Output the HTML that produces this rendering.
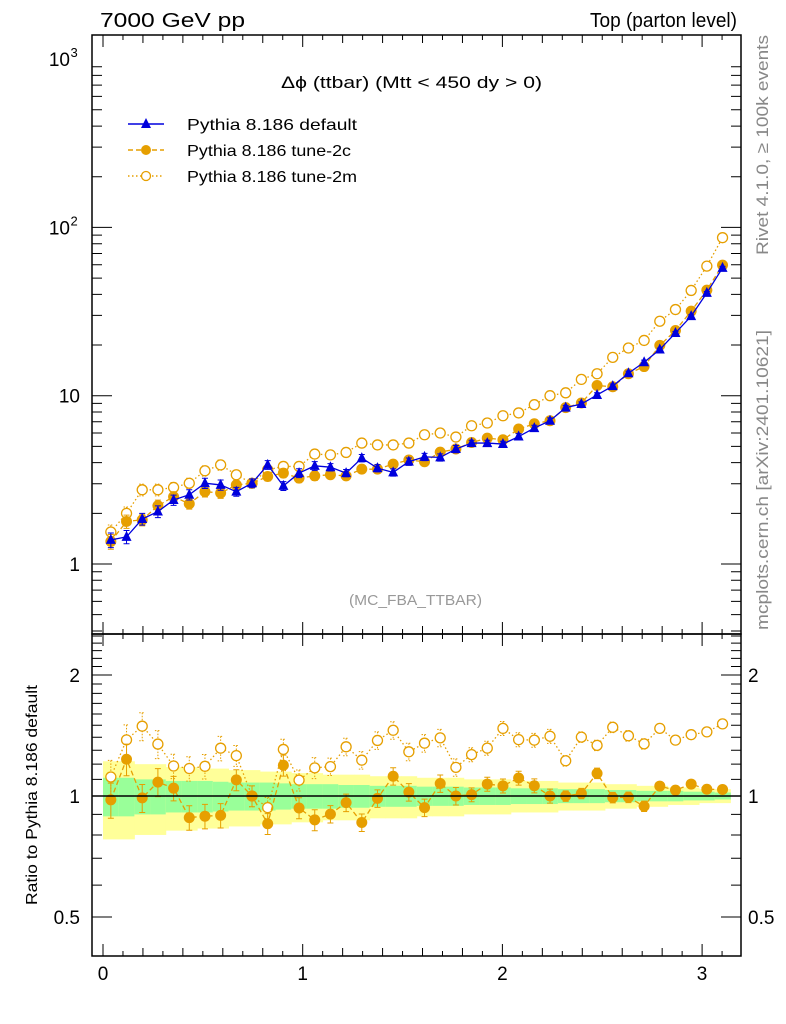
<!DOCTYPE html>
<html><head><meta charset="utf-8">
<style>
body{margin:0;background:#fff;}
svg{display:block;font-family:"Liberation Sans",sans-serif;}
</style></head>
<body>
<svg id="chart" width="786" height="1024" viewBox="0 0 786 1024">
<text x="100" y="27" font-size="20" textLength="145" lengthAdjust="spacingAndGlyphs">7000 GeV pp</text>
<text x="590" y="27" font-size="20" textLength="147" lengthAdjust="spacingAndGlyphs">Top (parton level)</text>
<text x="281" y="88" font-size="17" textLength="261" lengthAdjust="spacingAndGlyphs">Δϕ (ttbar) (Mtt &lt; 450 dy &gt; 0)</text>
<text x="349" y="605" font-size="15" fill="#999" textLength="133" lengthAdjust="spacingAndGlyphs">(MC_FBA_TTBAR)</text>
<text transform="translate(768,255) rotate(-90)" font-size="17" fill="#888" textLength="220" lengthAdjust="spacingAndGlyphs">Rivet 4.1.0, ≥ 100k events</text>
<text transform="translate(768,630) rotate(-90)" font-size="17" fill="#888" textLength="300" lengthAdjust="spacingAndGlyphs">mcplots.cern.ch [arXiv:2401.10621]</text>
<text transform="translate(37,905) rotate(-90)" font-size="16" textLength="220" lengthAdjust="spacingAndGlyphs">Ratio to Pythia 8.186 default</text>
<g id="legend">
 <g>
  <line x1="128" y1="124" x2="164" y2="124" stroke="#0000dd" stroke-width="1.5"/>
  <polygon points="146,118 151,128 141,128" fill="#0000dd"/>
  <text x="187" y="130" font-size="16" textLength="170" lengthAdjust="spacingAndGlyphs">Pythia 8.186 default</text>
 </g>
 <g>
  <line x1="128" y1="150" x2="164" y2="150" stroke="#e69f00" stroke-width="1.5" stroke-dasharray="5,3"/>
  <circle cx="146" cy="150" r="5" fill="#e69f00"/>
  <text x="187" y="156" font-size="16" textLength="164" lengthAdjust="spacingAndGlyphs">Pythia 8.186 tune-2c</text>
 </g>
 <g>
  <line x1="128" y1="176" x2="164" y2="176" stroke="#e69f00" stroke-width="1.5" stroke-dasharray="1.5,2.5"/>
  <circle cx="146" cy="176" r="4.5" fill="#fff" stroke="#e69f00" stroke-width="1.3"/>
  <text x="187" y="182" font-size="16" textLength="170" lengthAdjust="spacingAndGlyphs">Pythia 8.186 tune-2m</text>
 </g>
</g>
<g id="ratio-bands"></g>
<g id="main-marks"></g>
<g id="ratio-marks"></g>
<g id="axes"></g>
</svg>
<script>
const xMin = 0, xMax = Math.PI;
const nBins = 40;
const xTickLabels = ["0", "1", "2", "3"];
const yMainTicks = [1, 10, 100, 1000];
const yMainTickLabels = ["1", "10", "10", "10"];
const yMainTickExp = ["", "", "2", "3"];
const yRatioTicks = [0.5, 1, 2];
const yRatioTickLabels = ["0.5", "1", "2"];
const defaultVals = [1.39,1.45,1.85,2.05,2.4,2.58,3.02,2.95,2.69,3.02,3.88,2.91,3.47,3.83,3.76,3.47,4.26,3.71,3.5,4.06,4.33,4.3,4.82,5.23,5.23,5.16,5.72,6.42,7.1,8.5,8.92,10.1,11.4,13.6,15.8,18.8,23.6,29.7,40.8,57.5];
const tune2cVals = [1.36,1.79,1.83,2.22,2.51,2.28,2.69,2.64,2.95,3.02,3.31,3.47,3.24,3.34,3.39,3.34,3.66,3.66,3.92,4.15,4.05,4.62,4.82,5.27,5.6,5.47,6.34,6.81,7.1,8.5,9.05,11.5,11.3,13.5,14.9,19.9,24.4,31.8,42.4,59.7];
const tune2mVals = [1.55,2.0,2.76,2.76,2.85,3.02,3.58,3.88,3.39,3.02,3.63,3.8,3.8,4.5,4.45,4.6,5.23,5.1,5.1,5.23,5.86,6.0,5.68,6.63,6.88,7.6,7.9,8.84,10.0,10.4,12.5,13.5,16.9,19.2,21.3,27.7,32.5,42.2,58.9,86.9];
const relErr = [0.1,0.09,0.08,0.08,0.07,0.07,0.07,0.07,0.06,0.06,0.06,0.06,0.06,0.06,0.05,0.05,0.05,0.05,0.05,0.05,0.05,0.05,0.05,0.04,0.04,0.04,0.04,0.04,0.04,0.03,0.03,0.03,0.03,0.03,0.03,0.02,0.02,0.02,0.02,0.02];
const bandTotal = [0.22,0.22,0.2,0.2,0.18,0.18,0.17,0.17,0.16,0.16,0.15,0.15,0.14,0.14,0.13,0.13,0.13,0.12,0.12,0.12,0.11,0.11,0.11,0.1,0.1,0.1,0.09,0.09,0.09,0.08,0.08,0.08,0.07,0.07,0.06,0.06,0.05,0.05,0.04,0.04];
const bandStat = [0.11,0.11,0.1,0.1,0.09,0.09,0.09,0.085,0.08,0.08,0.08,0.075,0.07,0.07,0.07,0.065,0.065,0.06,0.06,0.06,0.055,0.055,0.055,0.05,0.05,0.05,0.045,0.045,0.045,0.04,0.04,0.04,0.035,0.035,0.03,0.03,0.03,0.025,0.025,0.02];

const NS = "http://www.w3.org/2000/svg";
const L = 92, R = 741, T = 35, MID = 634, B = 956;
const xS = v => 103 + (v - xMin) * 199.7;
const yMain = v => 564 - 168.3 * Math.log10(v);
const yRatio = v => 796 - 121 * Math.log2(v);
const binW = (xMax - xMin) / nBins;
const centers = defaultVals.map((d, i) => xMin + (i + 0.5) * binW);
function mk(tag, attrs, parent) {
  const e = document.createElementNS(NS, tag);
  for (const k in attrs) e.setAttribute(k, attrs[k]);
  parent.appendChild(e);
  return e;
}
const axes = document.getElementById('axes');
const bands = document.getElementById('ratio-bands');
const mm = document.getElementById('main-marks');
const rm = document.getElementById('ratio-marks');

for (let i = 0; i < nBins; i++) {
  const x0 = xS(xMin + i * binW), x1 = xS(xMin + (i + 1) * binW);
  const y = mk('rect', {x: x0, y: yRatio(1 + bandTotal[i]), width: x1 - x0 + 0.5, height: yRatio(1 - bandTotal[i]) - yRatio(1 + bandTotal[i]), fill: '#ffff99'}, bands);
  
  
  const g = mk('rect', {x: x0, y: yRatio(1 + bandStat[i]), width: x1 - x0 + 0.5, height: yRatio(1 - bandStat[i]) - yRatio(1 + bandStat[i]), fill: '#99ff99'}, bands);
  
  
}

const series = [
  {name: 'tune-2m', vals: tune2mVals, color: '#e69f00', dash: '1.5,2.5', marker: 'open'},
  {name: 'tune-2c', vals: tune2cVals, color: '#e69f00', dash: '5,3', marker: 'filled'},
  {name: 'default', vals: defaultVals, color: '#0000dd', dash: '', marker: 'tri'}
];
function drawSeries(s, parent, yf, vals, ratio) {
  const pts = vals.map((v, i) => xS(centers[i]) + ',' + yf(v)).join(' ');
  const pl = mk('polyline', {points: pts, fill: 'none', stroke: s.color, 'stroke-width': 1.3, 'stroke-dasharray': s.dash}, parent);
  
  
  vals.forEach((v, i) => {
    const x = xS(centers[i]), y = yf(v);
    const e = relErr[i];
    const y1 = yf(v * (1 + e)), y2 = yf(v * (1 - e));
    const eb = mk('path', {d: `M${x},${y1}V${y2}M${x-3},${y1}H${x+3}M${x-3},${y2}H${x+3}`, stroke: s.color, 'stroke-width': 1, fill: 'none', 'stroke-dasharray': s.marker === 'open' ? '1.5,1.5' : ''}, parent);
    
    
    let m;
    if (s.marker === 'tri') m = mk('polygon', {points: `${x},${y-6} ${x+5},${y+4} ${x-5},${y+4}`, fill: s.color}, parent);
    else if (s.marker === 'filled') m = mk('circle', {cx: x, cy: y, r: 5.5, fill: s.color}, parent);
    else m = mk('circle', {cx: x, cy: y, r: 5, fill: '#fff', stroke: s.color, 'stroke-width': 1.3}, parent);
    
    
  });
}
series.forEach(s => drawSeries(s, mm, yMain, s.vals, false));
series.slice(0, 2).forEach(s => drawSeries(s, rm, yRatio, s.vals.map((v, i) => v / defaultVals[i]), true));
const ref = mk('line', {x1: L, x2: R, y1: yRatio(1), y2: yRatio(1), stroke: '#000', 'stroke-width': 1.5}, rm);



[[T, MID], [MID, B]].forEach(([t, b], k) => {
  const f = mk('rect', {x: L, y: t, width: R - L, height: b - t, fill: 'none', stroke: '#000', 'stroke-width': 1.5}, axes);
  
  
  for (let j = 0; j <= 31; j++) {
    const v = j * 0.1;
    const len = j % 10 === 0 ? 12 : (j % 2 === 0 ? 8 : 5);
    const x = xS(v);
    const tk = mk('path', {d: `M${x},${b}v${-len}M${x},${t}v${len}`, stroke: '#000', 'stroke-width': 1}, axes);
    
    
  }
});
xTickLabels.forEach((lab, i) => {
  const t = mk('text', {x: xS(i), y: 980, 'font-size': 19, 'text-anchor': 'middle'}, axes);
  t.textContent = lab;
  
  
});
for (let d = 0; d < 4; d++) {
  for (let m = 1; m <= 9; m++) {
    const v = Math.pow(10, d - 1) * m;
    const y = yMain(v);
    if (y < T || y > MID) continue;
    const len = m === 1 ? 20 : 10;
    const tk = mk('path', {d: `M${L},${y}h${len}M${R},${y}h${-len}`, stroke: '#000', 'stroke-width': 1}, axes);
    
    
  }
}
yMainTicks.forEach((v, i) => {
  const hasExp = yMainTickExp[i] !== '';
  const t = mk('text', {x: hasExp ? 70 : 80, y: yMain(v) + 7, 'font-size': 19, 'text-anchor': 'end'}, axes);
  t.textContent = yMainTickLabels[i];
  
  
  if (hasExp) {
    const s = mk('text', {x: 70.5, y: yMain(v) - 2, 'font-size': 13}, axes);
    s.textContent = yMainTickExp[i];
    
    
  }
});
for (let j = 4; j <= 25; j++) {
  const v = j / 10;
  const y = yRatio(v);
  if (y < MID || y > B) continue;
  const len = (v === 0.5 || v === 1 || v === 2) ? 20 : 10;
  const tk = mk('path', {d: `M${L},${y}h${len}M${R},${y}h${-len}`, stroke: '#000', 'stroke-width': 1}, axes);
  
  
}
yRatioTicks.forEach((v, i) => {
  const t = mk('text', {x: 80, y: yRatio(v) + 7, 'font-size': 19, 'text-anchor': 'end'}, axes);
  t.textContent = yRatioTickLabels[i];
  
  
  const t2 = mk('text', {x: 748, y: yRatio(v) + 7, 'font-size': 19}, axes);
  t2.textContent = yRatioTickLabels[i];
  
  
});
</script>
</body></html>
